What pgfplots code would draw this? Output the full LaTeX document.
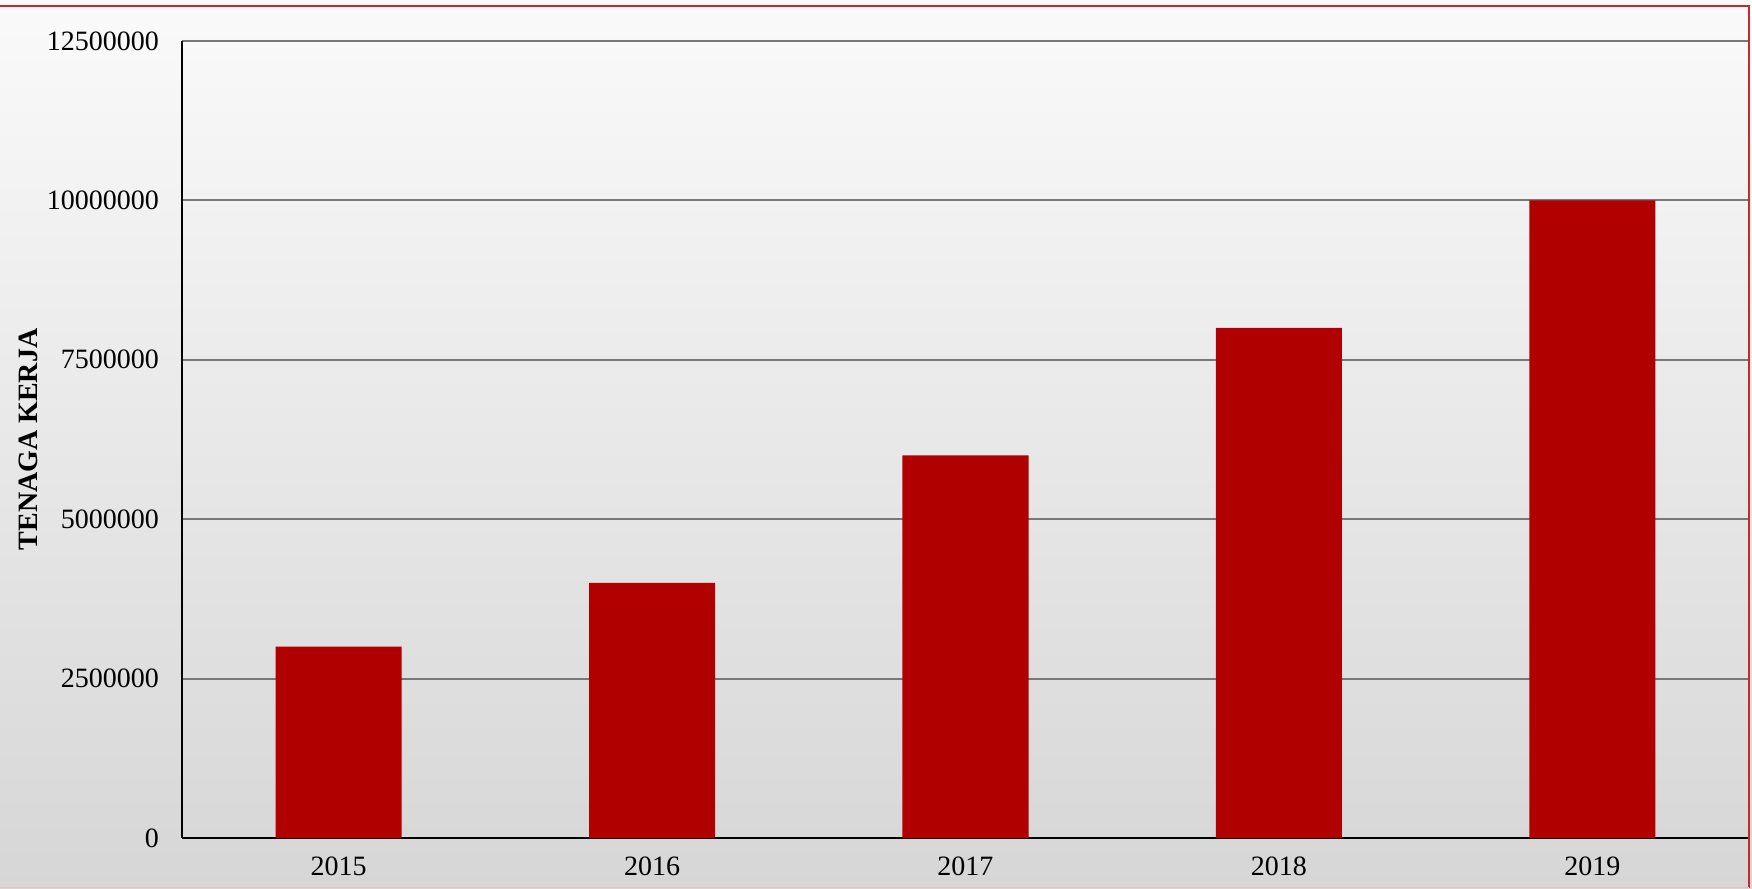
\documentclass[border=0pt]{standalone}
\usepackage{pgfplots}
\pgfplotsset{compat=1.18}
\usepackage{fontspec}
\setmainfont{Liberation Serif}
\definecolor{barred}{RGB}{176,0,0}
\definecolor{gridgray}{RGB}{120,120,120}
\definecolor{frame}{RGB}{200,40,40}
\begin{document}
\begin{tikzpicture}
\useasboundingbox (0pt,0pt) rectangle (876pt,444.5pt);
\shade[top color={rgb,255:red,250;green,250;blue,250}, bottom color={rgb,255:red,214;green,214;blue,214}] (0pt,0pt) rectangle (876pt,444.5pt);
\begin{axis}[
  at={(91pt,25.5pt)}, anchor=south west,
  scale only axis,
  width=783.5pt, height=398.5pt,
  xmin=-0.5, xmax=4.5,
  ymin=0, ymax=12500000,
  scaled y ticks=false,
  xtick={0,1,2,3,4},
  xticklabels={2015,2016,2017,2018,2019},
  ytick={0,2500000,5000000,7500000,10000000,12500000},
  yticklabels={0,2500000,5000000,7500000,10000000,12500000},
  major tick length=0pt,
  ymajorgrids,
  grid style={gridgray, line width=1pt},
  axis x line*=bottom, axis y line*=left,
  axis line style={black, line width=1pt, -},
  tick label style={font=\fontsize{14}{16}\selectfont},
  yticklabel style={xshift=-8pt},
  xticklabel style={yshift=-6pt},
  ylabel={\textbf{TENAGA KERJA}},
  ylabel style={at={(axis description cs:-0.0983,0.5)}, anchor=center, font=\fontsize{14}{16}\selectfont},
  clip=false,
]
\addplot[ybar, bar width=63pt, fill=barred, draw=none] coordinates {
  (0,3000000) (1,4000000) (2,6000000) (3,8000000) (4,10000000)
};
\end{axis}
\draw[frame, line width=1pt] (0pt,441.5pt) -- (874.5pt,441.5pt) -- (874.5pt,0.5pt);
\draw[frame!30, line width=0.8pt] (0pt,0.8pt) -- (874.5pt,0.8pt);
\end{tikzpicture}
\end{document}
